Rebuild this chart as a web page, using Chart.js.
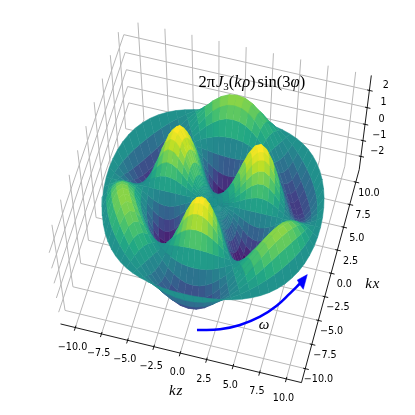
<!DOCTYPE html>
<html><head><meta charset="utf-8">
<style>html,body{margin:0;padding:0;background:#fff}canvas{display:block}</style>
<script src="https://cdn.jsdelivr.net/npm/chart.js@4"></script>
</head><body><canvas id="c" width="415" height="415"></canvas>
<script>
// ---- values ----
const kzTicks=[-10,-7.5,-5,-2.5,0,2.5,5,7.5,10];
const kxTicks=[-10,-7.5,-5,-2.5,0,2.5,5,7.5,10];
const zTicks=[-2,-1,0,1,2];
const kzLabels=['\u221210.0','\u22127.5','\u22125.0','\u22122.5','0.0','2.5','5.0','7.5','10.0'];
const kxLabels=['\u221210.0','\u22127.5','\u22125.0','\u22122.5','0.0','2.5','5.0','7.5','10.0'];
const zLabels=['\u22122','\u22121','0','1','2'];
const rhoSamples=[0,.5,1,1.5,2,2.5,3,3.5,4,4.5,5,5.5,6,6.5,7,7.5,8,8.5,9,9.5,10];
const radialHeight=[0,.02,.12,.38,.81,1.36,1.94,2.43,2.70,2.67,2.29,1.61,.72,-.22,-1.05,-1.62,-1.83,-1.65,-1.14,-.41,.37];
const angularShape=[
0,.26,.5,.71,.87,.97,1,.97,.87,.71,.5,.26,0,-.26,-.5,-.71,-.87,-.97,-1,-.97,-.87,-.71,-.5,-.26,
0,.26,.5,.71,.87,.97,1,.97,.87,.71,.5,.26,0,-.26,-.5,-.71,-.87,-.97,-1,-.97,-.87,-.71,-.5,-.26,
0,.26,.5,.71,.87,.97,1,.97,.87,.71,.5,.26,0,-.26,-.5,-.71,-.87,-.97,-1,-.97,-.87,-.71,-.5,-.26];
const viridisStops=['#440154','#482475','#414487','#355f8d','#2a788e','#21918c','#22a884','#44bf70','#7ad151','#bddf26','#fde725'];
const arrowX=[197,220,240,260,276.7,290,300];
const arrowY=[330,329.3,325,316.7,305.7,293.3,283.5];
const arrowHeadX=[307.3,297.3,300,303.3,307.3];
const arrowHeadY=[274.6,280,285,289.3,274.6];

// ---- box extents and camera calibration ----
const L=11.42, LZ=2.85;
const calib=[[-1,-1,-1,60,323.5],[1,-1,-1,301.7,382.5],[1,1,-1,359.3,170],[-1,1,-1,130,116.5],
             [-1,1,1,122.7,19],[1,1,1,371,75],[-1,-1,1,47.3,239.8]];
function solveCamera(){
  const rows=[],rhs=[];
  calib.forEach(([a,b,c,X,Y])=>{const u=a*L,v=b*L,z=c*LZ;
    rows.push([u,v,z,1,0,0,0,0,-X*u,-X*v,-X*z]);rhs.push(X);
    rows.push([0,0,0,0,u,v,z,1,-Y*u,-Y*v,-Y*z]);rhs.push(Y);});
  const n=11,A=[];
  for(let i=0;i<n;i++){A.push(new Array(n+1).fill(0));
    for(let j=0;j<n;j++)rows.forEach(r=>A[i][j]+=r[i]*r[j]);
    rows.forEach((r,k)=>A[i][n]+=r[i]*rhs[k]);
    A[i][i]*=1+1e-9;}
  for(let i=0;i<n;i++){let p=i;for(let k=i+1;k<n;k++)if(Math.abs(A[k][i])>Math.abs(A[p][i]))p=k;
    [A[i],A[p]]=[A[p],A[i]];
    for(let k=0;k<n;k++)if(k!==i){const f=A[k][i]/A[i][i];for(let j=i;j<=n;j++)A[k][j]-=f*A[i][j];}}
  return A.map((r,i)=>r[n]/r[i]);
}
const cam=solveCamera();
const depth=(u,v,z)=>cam[8]*u+cam[9]*v+cam[10]*z+1;
function project(u,v,z){const w=depth(u,v,z);
  return {x:(cam[0]*u+cam[1]*v+cam[2]*z+cam[3])/w,y:(cam[4]*u+cam[5]*v+cam[6]*z+cam[7])/w};}

function viridis(t){t=Math.max(0,Math.min(1,t))*(viridisStops.length-1);
  const i=Math.min(Math.floor(t),viridisStops.length-2),f=t-i;
  const h=s=>[1,3,5].map(k=>parseInt(s.substr(k,2),16));
  const a=h(viridisStops[i]),b=h(viridisStops[i+1]);
  return 'rgb('+a.map((c,k)=>Math.round(c+(b[k]-c)*f)).join(',')+')';}

// ---- datasets ----
const datasets=[];
const line=(pts,color,width,extra)=>datasets.push(Object.assign({type:'line',data:pts,borderColor:color,borderWidth:width,
  pointRadius:0,fill:false,tension:0,clip:false},extra||{}));

// arrow
line(arrowX.map((x,i)=>({x,y:arrowY[i]})),'#0000ff',2.5,{tension:.4,borderCapStyle:'butt'});
line(arrowHeadX.map((x,i)=>({x,y:arrowHeadY[i]})),'#0000ff',.5,{fill:'shape',backgroundColor:'#0000ff'});

// axes and ticks
const AX='#000';
line([project(-L,-L,-LZ),project(L,-L,-LZ)],AX,.9);
line([project(L,-L,-LZ),project(L,L,-LZ)],AX,.9);
line([project(L,L,-LZ),project(L,L,LZ)],AX,.9);
kzTicks.forEach(t=>line([project(t,-L-.33,-LZ),project(t,-L+.2,-LZ)],AX,.9));
kxTicks.forEach(t=>line([project(L+.33,t,-LZ),project(L-.2,t,-LZ)],AX,.9));
zTicks.forEach(t=>line([project(L+.3,L,t),project(L-.2,L,t)],AX,.9));

// surface facets, nearest first (the first dataset is painted last)
const facets=[];
const nA=angularShape.length, th=a=>a*2*Math.PI/nA;
for(let i=0;i<rhoSamples.length-1;i++)for(let j=0;j<nA;j++){
  const jj=(j+1)%nA;
  const corner=(ri,aj,ang)=>{const r=rhoSamples[ri];
    return [r*Math.cos(th(ang)),r*Math.sin(th(ang)),radialHeight[ri]*angularShape[aj]];};
  const q=[corner(i,j,j),corner(i+1,j,j),corner(i+1,jj,j+1),corner(i,jj,j+1)];
  const m=[0,1,2].map(k=>q.reduce((s,p)=>s+p[k],0)/4);
  facets.push({q,zm:m[2],d:depth(m[0],m[1],m[2])});
}
facets.sort((a,b)=>a.d-b.d);
const zLo=Math.min(...facets.map(f=>f.zm)), zHi=Math.max(...facets.map(f=>f.zm));
facets.forEach(f=>{const c=viridis((f.zm-zLo)/(zHi-zLo));
  const pts=f.q.map(p=>project(p[0],p[1],p[2]));pts.push(pts[0]);
  line(pts,c,.5,{fill:'shape',backgroundColor:c});});

// grid
const G='#b8b8b8',GW=1;
kzTicks.forEach(t=>{line([project(t,-L,-LZ),project(t,L,-LZ)],G,GW);line([project(t,L,-LZ),project(t,L,LZ)],G,GW);});
kxTicks.forEach(t=>{line([project(L,t,-LZ),project(-L,t,-LZ)],G,GW);line([project(-L,t,-LZ),project(-L,t,LZ)],G,GW);});
zTicks.forEach(t=>{line([project(L,L,t),project(-L,L,t)],G,GW);line([project(-L,L,t),project(-L,-L,t)],G,GW);});

// ---- text ----
const SANS='"DejaVu Sans"', SERIF='"Liberation Serif"';
function runs(ctx,cx,cy,parts){
  let w=0;parts.forEach(p=>{ctx.font=p[1];w+=ctx.measureText(p[0]).width+(p[3]||0);});
  let x=cx-w/2;ctx.textAlign='left';ctx.textBaseline='alphabetic';
  parts.forEach(p=>{ctx.font=p[1];ctx.fillText(p[0],x,cy+(p[2]||0));x+=ctx.measureText(p[0]).width+(p[3]||0);});
}
const textPlugin={id:'txt',afterDraw(ch){
  const c=ch.ctx,sx=ch.scales.x,sy=ch.scales.y;c.save();c.fillStyle='#000';
  const at=(p,dx,dy)=>[sx.getPixelForValue(p.x)+dx,sy.getPixelForValue(p.y)+dy];
  c.font='9.6px '+SANS;c.textAlign='center';c.textBaseline='middle';
  kzTicks.forEach((t,i)=>{const q=at(project(t,-L,-LZ),-2.8,19.5);c.fillText(kzLabels[i],q[0],q[1]);});
  kxTicks.forEach((t,i)=>{const q=at(project(L,t,-LZ),13.2,11);c.fillText(kxLabels[i],q[0],q[1]);});
  zTicks.forEach((t,i)=>{const q=at(project(L,L,t),16.4,-4.7);c.fillText(zLabels[i],q[0],q[1]);});
  const N='16.5px '+SERIF,I='italic 16.5px '+SERIF,S='11px '+SERIF,A='italic 15px '+SERIF;
  runs(c,251.8,86.5,[['2\u03c0',N,0,1],['J',I],['3',S,3.5],['(',N],['k',I,0,.5],['\u03c1',I],[')',N,0,2],['sin(3',N],['\u03c6',I],[')',N]]);
  runs(c,175.7,394.5,[['k',A,0,1],['z',A]]);
  runs(c,372.3,287.5,[['k',A,0,1],['x',A]]);
  runs(c,264,329,[['\u03c9',A]]);
  c.restore();
}};

new Chart(document.getElementById('c'),{
  type:'line',
  data:{datasets},
  options:{responsive:false,animation:false,events:[],
    layout:{padding:0},
    plugins:{legend:{display:false},tooltip:{enabled:false},title:{display:false}},
    scales:{x:{type:'linear',min:0,max:415,display:false},y:{type:'linear',min:0,max:415,reverse:true,display:false}}},
  plugins:[textPlugin]
});
</script></body></html>
